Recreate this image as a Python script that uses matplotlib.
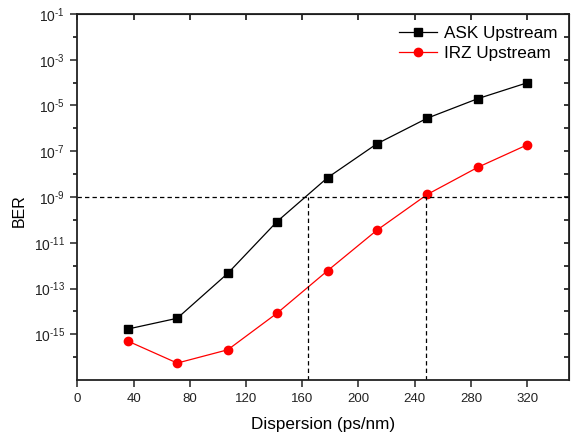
import matplotlib
matplotlib.use("Agg")
import matplotlib.pyplot as plt
from matplotlib.ticker import FixedLocator, FuncFormatter, NullLocator
import numpy as np

plt.rcParams['font.family'] = ['Liberation Sans', 'DejaVu Sans']
plt.rcParams['mathtext.fontset'] = 'custom'
plt.rcParams['mathtext.rm'] = 'Liberation Sans'
plt.rcParams['mathtext.it'] = 'Liberation Sans'

dispersion = [36, 71, 107, 142, 178, 213, 249, 285, 320]
ask_ber = [1.7e-15, 5e-15, 4.6e-13, 8.4e-11, 7e-9, 2.1e-7, 2.8e-6, 2e-5, 9.8e-5]
irz_ber = [5e-16, 5.5e-17, 2.1e-16, 8.3e-15, 6e-13, 3.5e-11, 1.3e-9, 2e-8, 1.9e-7]
threshold = 1e-9
cross_ask = 164
cross_irz = 248
xticks = [0, 40, 80, 120, 160, 200, 240, 280, 320]
major_exp = [-1, -3, -5, -7, -9, -11, -13, -15]
minor_exp = [-2, -4, -6, -8, -10, -12, -14, -16]

fig = plt.figure(figsize=(5.71, 4.37), dpi=100)
ax = fig.add_axes([0.1356, 0.1304, 0.8614, 0.8376])

ax.plot(dispersion, ask_ber, color='black', lw=0.9, marker='s', ms=5.3,
        label='ASK Upstream')
ax.plot(dispersion, irz_ber, color='red', lw=0.9, marker='o', ms=6,
        label='IRZ Upstream')

dash = (0, (3.5, 2.5))
ax.plot([0, 350], [threshold, threshold], color='black', lw=0.9, ls=dash)
ax.plot([cross_ask, cross_ask], [1e-17, threshold], color='black', lw=0.9, ls=dash)
ax.plot([cross_irz, cross_irz], [1e-17, threshold], color='black', lw=0.9, ls=dash)

ax.set_yscale('log')
ax.set_xlim(0, 350)
ax.set_ylim(1e-17, 1e-1)
ax.xaxis.set_major_locator(FixedLocator(xticks))
ax.xaxis.set_minor_locator(NullLocator())
ax.yaxis.set_major_locator(FixedLocator([10.0**e for e in major_exp]))
ax.yaxis.set_minor_locator(FixedLocator([10.0**e for e in minor_exp]))
ax.yaxis.set_major_formatter(FuncFormatter(
    lambda v, p: r'$10^{\text{-}%d}$' % abs(int(round(np.log10(v))))))
ax.yaxis.set_minor_formatter(FuncFormatter(lambda v, p: ''))

for s in ax.spines.values():
    s.set_linewidth(1.3)
    s.set_color('#222222')

ax.tick_params(axis='both', which='major', direction='out', length=5, width=1.1,
               labelsize=9.5, colors='#222222', pad=4)
ax.tick_params(axis='y', which='major', labelsize=10)
ax.tick_params(axis='y', which='minor', direction='out', length=3, width=1.1)

# mirrored ticks on top/right (inward, no labels)
axt = ax.secondary_xaxis('top')
axt.set_xticks(xticks)
axt.tick_params(direction='in', length=4, width=1.1, labeltop=False)
axr = ax.secondary_yaxis('right')
axr.set_yticks([10.0**e for e in major_exp + minor_exp])
axr.tick_params(direction='in', length=3.5, width=1.1, labelright=False)
axr.yaxis.set_minor_locator(NullLocator())

ax.set_xlabel('Dispersion (ps/nm)', fontsize=12.3, labelpad=9)
ax.set_ylabel('BER', fontsize=11.5)
ax.yaxis.set_label_coords(-0.1025, 0.464)

leg = ax.legend(loc='upper right', frameon=False, fontsize=12.3,
                handlelength=2.2, handletextpad=0.4, borderaxespad=0.3,
                labelspacing=0.3, bbox_to_anchor=(1.0, 1.0))

fig.savefig('out.png', dpi=100)
